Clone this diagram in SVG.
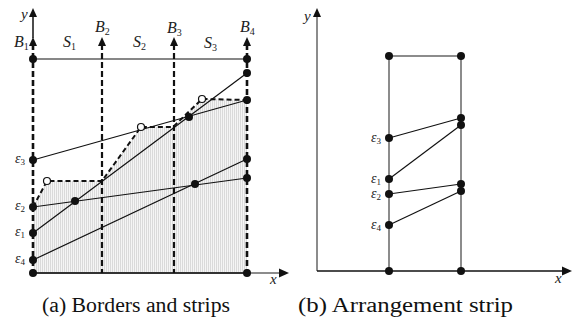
<svg xmlns="http://www.w3.org/2000/svg" width="576" height="324" viewBox="0 0 576 324">
<style>
.lbl{font-family:"Liberation Serif","DejaVu Serif","Times New Roman",serif;font-style:italic;fill:#222}
.cap{font-family:"Liberation Serif","DejaVu Serif","Times New Roman",serif;font-size:20px;fill:#111}
.seg{stroke:#111;stroke-width:1.2;fill:none}
.dot{fill:#111}
.oc{fill:#fff;stroke:#111;stroke-width:1.2}
.bd{stroke:#111;stroke-width:2.6;stroke-dasharray:6 3;fill:none}
.bdm{stroke:#111;stroke-width:2.2;stroke-dasharray:6 3;fill:none}
.env{stroke:#111;stroke-width:2;stroke-dasharray:5 3;fill:none}
.ax{stroke:#111;stroke-width:1.5;fill:none}
.gr{stroke:#666;stroke-width:1.5;fill:none}
</style>
<defs>
<pattern id="hatch" width="2" height="4" patternUnits="userSpaceOnUse">
<rect width="2" height="4" fill="#f5f5f5"/>
<rect width="1" height="4" fill="#dadada"/>
</pattern>
</defs>
<g id="panel-a">
<path id="shade" d="M33,207 L47,181 L102,181 L141,127 L173,127 L202,99 L247,100 L247,273 L33,273 Z" fill="url(#hatch)"/>
<g id="axes-a">
<line class="ax" x1="33" y1="38" x2="33" y2="14"/>
<polygon points="33,8 29,17 37,17" fill="#111"/>
<text class="lbl" x="21" y="19" font-size="15" font-family="Liberation Serif, serif">y</text>
<line x1="33" y1="273" x2="247" y2="273" stroke="#333" stroke-width="2.2"/>
<line class="gr" x1="247" y1="273" x2="281" y2="273"/>
<polygon points="289,273 279,268.5 279,277.5" fill="#111"/>
<text class="lbl" x="270" y="284" font-size="15" font-family="Liberation Serif, serif">x</text>
</g>
<g id="connectors">
<line class="bd" x1="33" y1="44" x2="33" y2="273"/>
<line class="bdm" x1="102" y1="44" x2="102" y2="273"/>
<line class="bdm" x1="174" y1="44" x2="174" y2="273"/>
<line class="bd" x1="247" y1="44" x2="247" y2="273"/>
<polygon points="33,37 29,46 37,46" fill="#111"/>
<polygon points="102,37 98,46 106,46" fill="#111"/>
<polygon points="174,37 170,46 178,46" fill="#111"/>
<polygon points="247,37 243,46 251,46" fill="#111"/>
<line class="seg" x1="33" y1="59" x2="247" y2="59"/>
<line class="seg" x1="33" y1="233" x2="247" y2="73"/>
<line class="seg" x1="33" y1="160" x2="247" y2="100"/>
<line class="seg" x1="33" y1="207" x2="247" y2="178"/>
<line class="seg" x1="33" y1="260" x2="247" y2="159"/>
<path class="env" d="M33,207 L47,181 L102,181 L141,127 L173,127 L202,99 L247,100"/>
</g>
<g id="labels-a" font-family="Liberation Serif, serif">
<text class="lbl" x="14" y="47" font-size="16">B<tspan font-size="10" dy="3" font-style="normal">1</tspan></text>
<text class="lbl" x="95" y="32" font-size="16">B<tspan font-size="10" dy="3" font-style="normal">2</tspan></text>
<text class="lbl" x="167" y="33" font-size="16">B<tspan font-size="10" dy="3" font-style="normal">3</tspan></text>
<text class="lbl" x="240" y="32" font-size="16">B<tspan font-size="10" dy="3" font-style="normal">4</tspan></text>
<text class="lbl" x="63" y="47" font-size="16">S<tspan font-size="10" dy="3" font-style="normal">1</tspan></text>
<text class="lbl" x="133" y="47" font-size="16">S<tspan font-size="10" dy="3" font-style="normal">2</tspan></text>
<text class="lbl" x="204" y="48" font-size="16">S<tspan font-size="10" dy="3" font-style="normal">3</tspan></text>
<text class="lbl" x="15" y="163" font-size="14">ε<tspan font-size="9" dy="2" font-style="normal">3</tspan></text>
<text class="lbl" x="15" y="210" font-size="14">ε<tspan font-size="9" dy="2" font-style="normal">2</tspan></text>
<text class="lbl" x="15" y="236" font-size="14">ε<tspan font-size="9" dy="2" font-style="normal">1</tspan></text>
<text class="lbl" x="15" y="263" font-size="14">ε<tspan font-size="9" dy="2" font-style="normal">4</tspan></text>
</g>
<g id="points-a">
<circle class="dot" cx="33" cy="59" r="4"/>
<circle class="dot" cx="247" cy="59" r="4"/>
<circle class="dot" cx="247" cy="73" r="4"/>
<circle class="dot" cx="247" cy="100" r="4"/>
<circle class="dot" cx="189" cy="117" r="4"/>
<circle class="dot" cx="33" cy="160" r="4"/>
<circle class="dot" cx="33" cy="207" r="4"/>
<circle class="dot" cx="75" cy="201" r="4"/>
<circle class="dot" cx="195" cy="184" r="4"/>
<circle class="dot" cx="247" cy="159" r="4"/>
<circle class="dot" cx="247" cy="178" r="4"/>
<circle class="dot" cx="33" cy="233" r="4"/>
<circle class="dot" cx="33" cy="260" r="4"/>
<circle class="dot" cx="33" cy="273" r="4"/>
<circle class="dot" cx="247" cy="273" r="4"/>
<circle class="oc" cx="202" cy="99" r="3.5"/>
<circle class="oc" cx="141" cy="127" r="3.5"/>
<circle class="oc" cx="47" cy="181" r="3.5"/>
</g>
</g>
<g id="panel-b">
<g id="axes-b">
<line class="gr" x1="317" y1="271" x2="317" y2="15"/>
<polygon points="317,8 313,17 321,17" fill="#111"/>
<text class="lbl" x="304" y="21" font-size="15" font-family="Liberation Serif, serif">y</text>
<line class="ax" x1="317" y1="271" x2="563" y2="271"/>
<polygon points="572,271 562,266.5 562,275.5" fill="#111"/>
<text class="lbl" x="555" y="283" font-size="15" font-family="Liberation Serif, serif">x</text>
</g>
<g id="strip">
<line class="gr" x1="389" y1="56" x2="461" y2="56"/>
<line class="gr" x1="389" y1="56" x2="389" y2="271"/>
<line class="gr" x1="461" y1="56" x2="461" y2="271"/>
</g>
<g id="connectors-b">
<line class="seg" x1="389" y1="138" x2="461" y2="118"/>
<line class="seg" x1="389" y1="179" x2="461" y2="125"/>
<line class="seg" x1="389" y1="194" x2="461" y2="184"/>
<line class="seg" x1="389" y1="225" x2="461" y2="191"/>
</g>
<g id="labels-b" font-family="Liberation Serif, serif">
<text class="lbl" x="371" y="142" font-size="14">ε<tspan font-size="9" dy="2" font-style="normal">3</tspan></text>
<text class="lbl" x="371" y="183" font-size="14">ε<tspan font-size="9" dy="2" font-style="normal">1</tspan></text>
<text class="lbl" x="371" y="198" font-size="14">ε<tspan font-size="9" dy="2" font-style="normal">2</tspan></text>
<text class="lbl" x="371" y="229" font-size="14">ε<tspan font-size="9" dy="2" font-style="normal">4</tspan></text>
</g>
<g id="points-b">
<circle class="dot" cx="389" cy="56" r="4"/>
<circle class="dot" cx="461" cy="56" r="4"/>
<circle class="dot" cx="461" cy="118" r="4"/>
<circle class="dot" cx="461" cy="125" r="4"/>
<circle class="dot" cx="389" cy="138" r="4"/>
<circle class="dot" cx="389" cy="179" r="4"/>
<circle class="dot" cx="461" cy="184" r="4"/>
<circle class="dot" cx="389" cy="194" r="4"/>
<circle class="dot" cx="461" cy="191" r="4"/>
<circle class="dot" cx="389" cy="225" r="4"/>
<circle class="dot" cx="389" cy="271" r="4"/>
<circle class="dot" cx="461" cy="271" r="4"/>
</g>
</g>
<g id="captions" font-family="Liberation Serif, serif">
<text class="cap" x="42" y="312" textLength="188" lengthAdjust="spacingAndGlyphs">(a) Borders and strips</text>
<text class="cap" x="298" y="312" textLength="215" lengthAdjust="spacingAndGlyphs">(b) Arrangement strip</text>
</g>
</svg>
